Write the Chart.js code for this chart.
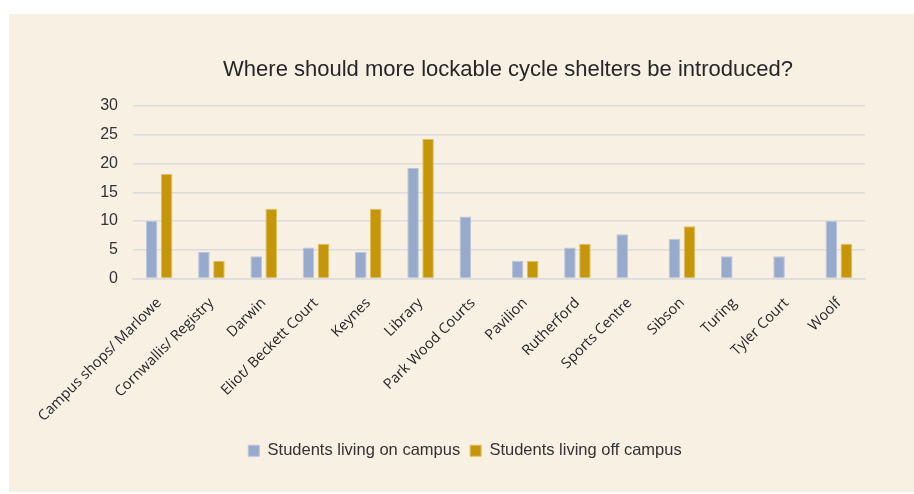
<!DOCTYPE html>
<html lang="en">

<head>
  <meta charset="UTF-8">
  <title>Cycle shelters</title>
  <script src="https://cdn.jsdelivr.net/npm/chart.js"></script>
  <style>
    body {
      margin: 0;
      background: #ffffff;
    }
  </style>
</head>

<body>
  <canvas id="shelterChart" width="914" height="494"></canvas>
  <script>
    const chartTitle = 'Where should more lockable cycle shelters be introduced?';

    const locations = [
      'Campus shops/ Marlowe', 'Cornwallis/ Registry', 'Darwin', 'Eliot/ Beckett Court',
      'Keynes', 'Library', 'Park Wood Courts', 'Pavilion', 'Rutherford',
      'Sports Centre', 'Sibson', 'Turing', 'Tyler Court', 'Woolf'
    ];

    // percentage of each group choosing the location
    const onCampus = [10.0, 4.62, 3.85, 5.38, 4.62, 19.23, 10.77, 3.08, 5.38, 7.69, 6.92, 3.85, 3.85, 10.0];
    const offCampus = [18.18, 3.03, 12.12, 6.06, 12.12, 24.24, 0, 3.03, 6.06, 0, 9.09, 0, 0, 6.06];

    const yTicks = { min: 0, max: 30, step: 5 };

    // cream panel behind the whole chart
    const panelBackground = {
      id: 'panelBackground',
      beforeDraw(chart) {
        const ctx = chart.ctx;
        ctx.save();
        ctx.fillStyle = '#f8f0e2';
        ctx.fillRect(9, 14, chart.width - 9, 478);
        ctx.restore();
      }
    };

    // title sits a little right of the legend centre, so it is drawn here
    const offsetTitle = {
      id: 'offsetTitle',
      afterDraw(chart) {
        const ctx = chart.ctx;
        ctx.save();
        ctx.font = '22px "Liberation Sans", Arial, sans-serif';
        ctx.fillStyle = '#262626';
        ctx.textAlign = 'center';
        ctx.textBaseline = 'middle';
        ctx.fillText(chartTitle, 508, 70);
        ctx.restore();
      }
    };

    const ctx = document.getElementById('shelterChart').getContext('2d');

    new Chart(ctx, {
      type: 'bar',
      data: {
        labels: locations,
        datasets: [{
          label: 'Students living on campus',
          data: onCampus,
          backgroundColor: '#97aacb',
          borderColor: '#b9c6dc',
          borderWidth: 1,
        }, {
          label: 'Students living off campus',
          data: offCampus,
          backgroundColor: '#c5950a',
          borderColor: '#dfc060',
          borderWidth: 1,
        }]
      },
      options: {
        responsive: false,
        maintainAspectRatio: false,
        animation: false,
        categoryPercentage: 0.574,
        barPercentage: 0.77,
        layout: {
          padding: { top: 106, left: 65, right: 49, bottom: 25 }
        },
        scales: {
          x: {
            grid: { display: false },
            border: { color: '#dcdcdc', width: 1.5 },
            ticks: {
              minRotation: 45,
              maxRotation: 45,
              padding: 8,
              color: '#262626',
              font: { family: '"Open Sans", sans-serif', size: 14.5 }
            },
            afterFit(scale) {
              scale.height = 154;
            }
          },
          y: {
            min: yTicks.min,
            max: yTicks.max,
            grid: { color: '#dcdcdc', lineWidth: 1.5, drawTicks: false },
            border: { display: false },
            ticks: {
              stepSize: yTicks.step,
              padding: 15,
              color: '#333333',
              font: { family: '"Liberation Sans", Arial, sans-serif', size: 16 }
            },
            afterFit(scale) {
              scale.width = 68;
            }
          }
        },
        plugins: {
          title: { display: false },
          tooltip: { enabled: false },
          legend: {
            position: 'bottom',
            labels: {
              boxWidth: 11,
              boxHeight: 11,
              padding: 10,
              color: '#333333',
              font: { family: '"Liberation Sans", Arial, sans-serif', size: 16.5 }
            }
          }
        }
      },
      plugins: [panelBackground, offsetTitle]
    });
  </script>
</body>

</html>
